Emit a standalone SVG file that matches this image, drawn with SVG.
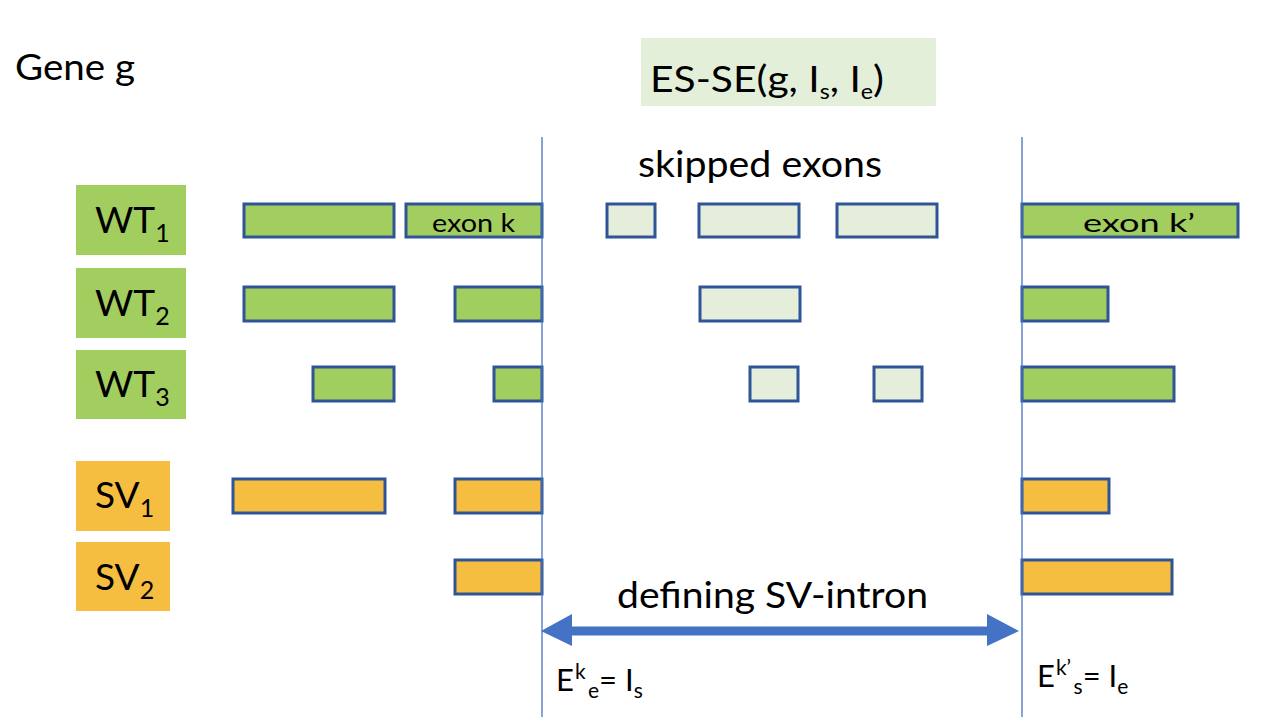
<svg xmlns="http://www.w3.org/2000/svg" width="1267" height="727" viewBox="0 0 1267 727">
<style>
text{font-family:Lato,"Open Sans","Liberation Sans",sans-serif;fill:#000}
.lbl{font-size:37px}
.big{font-size:37px}
.eq{font-size:31px}
.small{font-size:25px}
.sub{font-size:25px}
.sub2{font-size:21px}
.ex{stroke:#2F5597;stroke-width:3}
.g{fill:#A2CD5F}
.o{fill:#F6BE41}
.s{fill:#E4EEDA}
.vl{stroke:#4472C4;stroke-width:1.3;fill:none}
</style>
<rect width="1267" height="727" fill="#fff"/>
<g id="title">
<text x="15" y="80" class="big" textLength="120" lengthAdjust="spacingAndGlyphs">Gene g</text>
</g>
<g id="es-se">
<rect x="641" y="38" width="295" height="68" fill="#E4EFDA"/>
<text x="650" y="92" class="big" textLength="234" lengthAdjust="spacingAndGlyphs">ES-SE(g, I<tspan class="sub2" dy="7">s</tspan><tspan dy="-7">, I</tspan><tspan class="sub2" dy="7">e</tspan><tspan dy="-7">)</tspan></text>
</g>
<g id="skipped-label">
<text x="638" y="177" class="big" textLength="244" lengthAdjust="spacingAndGlyphs">skipped exons</text>
</g>
<g id="WT1">
<rect x="76" y="185" width="110" height="70" class="g"/>
<text x="95" y="233" class="lbl">WT<tspan class="sub" dy="9">1</tspan></text>
<rect x="244" y="204" width="150" height="33" class="g ex"/>
<rect x="406" y="204" width="136" height="33" class="g ex"/>
<text x="432" y="232" class="small" textLength="83" lengthAdjust="spacingAndGlyphs">exon k</text>
<rect x="607" y="204" width="48" height="33" class="s ex"/>
<rect x="699" y="204" width="100" height="33" class="s ex"/>
<rect x="837" y="204" width="100" height="33" class="s ex"/>
<rect x="1022" y="204" width="216" height="33" class="g ex"/>
<text x="1083" y="232" class="small" textLength="112" lengthAdjust="spacingAndGlyphs">exon k’</text>
</g>
<g id="WT2">
<rect x="76" y="268" width="110" height="70" class="g"/>
<text x="95" y="316" class="lbl">WT<tspan class="sub" dy="9">2</tspan></text>
<rect x="244" y="287" width="150" height="34" class="g ex"/>
<rect x="455" y="287" width="87" height="34" class="g ex"/>
<rect x="700" y="287" width="100" height="34" class="s ex"/>
<rect x="1022" y="287" width="86" height="34" class="g ex"/>
</g>
<g id="WT3">
<rect x="76" y="350" width="110" height="69" class="g"/>
<text x="95" y="397" class="lbl">WT<tspan class="sub" dy="9">3</tspan></text>
<rect x="313" y="367" width="81" height="34" class="g ex"/>
<rect x="494" y="367" width="48" height="34" class="g ex"/>
<rect x="750" y="367" width="48" height="34" class="s ex"/>
<rect x="874" y="367" width="48" height="34" class="s ex"/>
<rect x="1022" y="367" width="152" height="34" class="g ex"/>
</g>
<g id="SV1">
<rect x="76" y="461" width="94" height="70" class="o"/>
<text x="95" y="508" class="lbl">SV<tspan class="sub" dy="9">1</tspan></text>
<rect x="233" y="479" width="152" height="34" class="o ex"/>
<rect x="455" y="479" width="87" height="34" class="o ex"/>
<rect x="1022" y="479" width="87" height="34" class="o ex"/>
</g>
<g id="SV2">
<rect x="76" y="542" width="94" height="69" class="o"/>
<text x="95" y="590" class="lbl">SV<tspan class="sub" dy="9">2</tspan></text>
<rect x="455" y="560" width="87" height="34" class="o ex"/>
<rect x="1022" y="560" width="150" height="34" class="o ex"/>
</g>
<g id="connectors">
<line x1="542" y1="137" x2="542" y2="717" class="vl"/>
<line x1="1022" y1="137" x2="1022" y2="717" class="vl"/>
<path d="M541,631 L572,614 L572,626.5 L987,626.5 L987,614 L1019,631 L987,646 L987,635.5 L572,635.5 L572,646 Z" fill="#4472C4"/>
</g>
<g id="intron-label">
<text x="617" y="608" class="big" textLength="311" lengthAdjust="spacingAndGlyphs">defining SV-intron</text>
</g>
<g id="bounds">
<text x="556" y="691" class="eq">E<tspan class="sub2" dy="-12" dx="1">k</tspan><tspan class="sub2" dy="19" dx="3">e</tspan><tspan dy="-7">= I</tspan><tspan class="sub2" dy="7">s</tspan></text>
<text x="1037" y="687" class="eq">E<tspan class="sub2" dy="-12" dx="1">k’</tspan><tspan class="sub2" dy="19" dx="3">s</tspan><tspan dy="-7">= I</tspan><tspan class="sub2" dy="7">e</tspan></text>
</g>
</svg>
